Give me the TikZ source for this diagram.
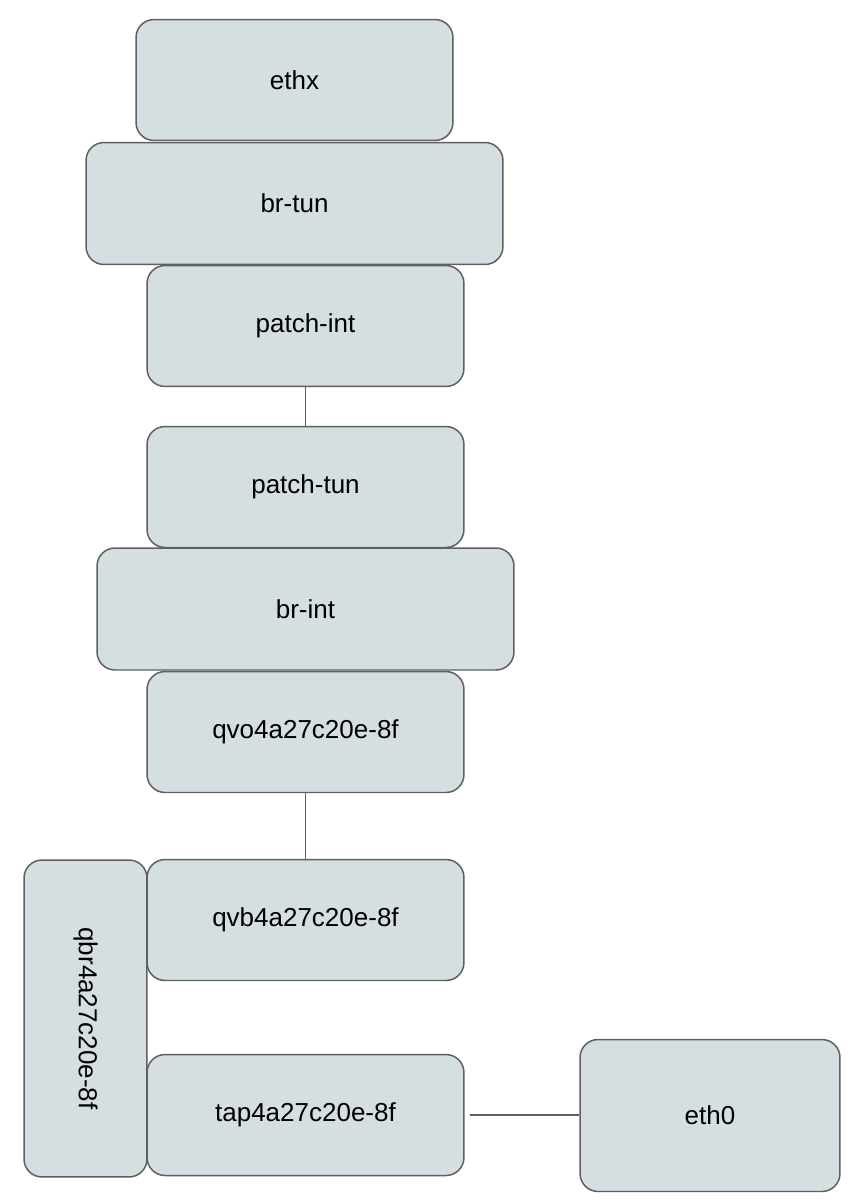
\documentclass[tikz,border=0pt]{standalone}
\usepackage{fontspec}
\setmainfont{Liberation Sans}
\usepackage{xcolor}

\begin{document}
\begin{tikzpicture}[x=0.02cm,y=-0.02cm,
  box/.style={draw=boxline,fill=boxfill,line width=0.85pt,rounded corners=0.36cm,
    inner sep=0pt,font=\fontsize{14.8}{18}\selectfont},
  port/.style={box,minimum width=6.34cm,minimum height=2.42cm},
  bridge/.style={box,minimum width=8.34cm,minimum height=2.44cm},
  link/.style={draw=boxline,line width=0.85pt}]
\definecolor{boxfill}{HTML}{D5DFE1}
\definecolor{boxline}{HTML}{5F5F5F}
\useasboundingbox (0,0) rectangle (850,1204);
\node [port] (ethx) at (294.5,80) {ethx};
\node [bridge] (brtun) at (294.5,203.5) {br-tun};
\node [bridge] (brint) at (305.5,609) {br-int};
  \foreach \nm/\txt/\ypos in {pint/patch-int/326,ptun/patch-tun/487,qvo/qvo4a27c20e-8f/732,qvb/qvb4a27c20e-8f/920,tap/tap4a27c20e-8f/1115}
  {  \node [port] (\nm) at (305.5,\ypos) {\txt};}
\node [box,rotate=-90,minimum width=6.34cm,minimum height=2.46cm] (qbr) at (85.5,1018.5) {qbr4a27c20e-8f};
\node [box,minimum width=5.2cm,minimum height=3.04cm] (eth0) at (710,1115.5) {eth0};
\draw [link] (pint) -- (ptun);
\draw [link] (qvo) -- (qvb);
\draw [link,shorten <=0.1cm] (tap.east) -- (tap.east -| eth0.west);
\end{tikzpicture}
\end{document}
